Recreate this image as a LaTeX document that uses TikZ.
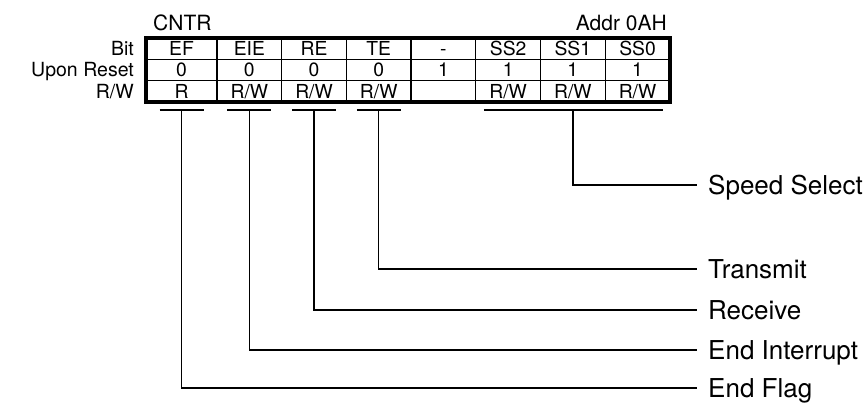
\documentclass[tikz,border=0pt]{standalone}
\usepackage{fontspec}
\setmainfont{TeX Gyre Heros}
\usepackage{tikz}
\usetikzlibrary{positioning, calc}
\tikzstyle{cell} = [rectangle, draw=black, line width=1.3pt, minimum width=64.7pt, minimum height=21.3pt, inner sep=0pt, outer sep=0pt, text height=13.8pt, text depth=0pt, font=\fontsize{19.3}{21}\selectfont]
\tikzstyle{rowlabel} = [inner sep=0pt, text height=13.8pt, text depth=0pt, font=\fontsize{19.5}{21}\selectfont]
\tikzstyle{title} = [inner sep=0pt, text height=15pt, text depth=0pt, font=\fontsize{21}{23}\selectfont]
\tikzstyle{desc} = [anchor=west, inner xsep=11pt, inner ysep=0pt, text height=18.6pt, text depth=0pt, font=\fontsize{26}{29}\selectfont]
\tikzstyle{lead} = [line width=1.4pt]

\begin{document}
\begin{tikzpicture}[x=1pt, y=-1pt]
  \useasboundingbox (0,0) rectangle (867,408);
  % Bit row
  \node[cell, minimum width=71pt] (ef) at (181.5,48.65) {EF};
  \node[cell, right=0pt of ef] (eie) {EIE};
  \node[cell, right=0pt of eie] (re) {RE};
  \node[cell, right=0pt of re] (te) {TE};
  \node[cell, right=0pt of te] (rsv) {-};
  \node[cell, right=0pt of rsv] (ss2) {SS2};
  \node[cell, right=0pt of ss2] (ss1) {SS1};
  \node[cell, right=0pt of ss1] (ss0) {SS0};
  % Upon Reset row
  \node[cell, minimum width=71pt, below=0pt of ef] (ef_r) {0};
  \node[cell, right=0pt of ef_r] (eie_r) {0};
  \node[cell, right=0pt of eie_r] (re_r) {0};
  \node[cell, right=0pt of re_r] (te_r) {0};
  \node[cell, right=0pt of te_r] (rsv_r) {1};
  \node[cell, right=0pt of rsv_r] (ss2_r) {1};
  \node[cell, right=0pt of ss2_r] (ss1_r) {1};
  \node[cell, right=0pt of ss1_r] (ss0_r) {1};
  % R/W row
  \node[cell, minimum width=71pt, below=0pt of ef_r] (ef_rw) {R};
  \node[cell, right=0pt of ef_rw] (eie_rw) {R/W};
  \node[cell, right=0pt of eie_rw] (re_rw) {R/W};
  \node[cell, right=0pt of re_rw] (te_rw) {R/W};
  \node[cell, right=0pt of te_rw] (rsv_rw) {};
  \node[cell, right=0pt of rsv_rw] (ss2_rw) {R/W};
  \node[cell, right=0pt of ss2_rw] (ss1_rw) {R/W};
  \node[cell, right=0pt of ss1_rw] (ss0_rw) {R/W};
  \draw[line width=3.5pt] (ef.north west) rectangle (ss0_rw.south east);

  \node[rowlabel, left=12pt of ef] (bit) {Bit};
  \node[rowlabel, left=12pt of ef_r] (reset) {Upon Reset};
  \node[rowlabel, left=12pt of ef_rw] (rw) {R/W};
  \node[title, above right=7pt and 7pt of ef.north west] (cntr) {CNTR};
  \node[title, above left=7pt and 3pt of ss0.north east] (addr) {Addr 0AH};

  % field names
  \node[desc] (speed) at (697,185) {Speed Select};
  \node[desc] (trans) at (697,269) {Transmit};
  \node[desc] (recv) at (697,310) {Receive};
  \node[desc] (eint) at (697,350) {End Interrupt};
  \node[desc] (eflag) at (697,388) {End Flag};

  \coordinate (ef_u) at ([yshift=-8pt]ef_rw.south);
  \coordinate (eie_u) at ([yshift=-8pt]eie_rw.south);
  \coordinate (re_u) at ([yshift=-8pt]re_rw.south);
  \coordinate (te_u) at ([yshift=-8pt]te_rw.south);
  \coordinate (ss_u) at ([yshift=-8pt]ss1_rw.south);

  \draw[lead] ([xshift=-22pt]ef_u) -- ([xshift=22pt]ef_u);
  \draw[lead] ([xshift=-22pt]eie_u) -- ([xshift=22pt]eie_u);
  \draw[lead] ([xshift=-22pt]re_u) -- ([xshift=22pt]re_u);
  \draw[lead] ([xshift=-22pt]te_u) -- ([xshift=22pt]te_u);
  \draw[lead] ([xshift=8pt, yshift=-8pt]ss2_rw.south west) -- ([xshift=-7pt, yshift=-8pt]ss0_rw.south east);

  \draw[lead] (ss_u) |- (speed.west);
  \draw[lead] (te_u) |- (trans.west);
  \draw[lead] (re_u) |- (recv.west);
  \draw[lead] (eie_u) |- (eint.west);
  \draw[lead] (ef_u) |- (eflag.west);
\end{tikzpicture}
\end{document}
